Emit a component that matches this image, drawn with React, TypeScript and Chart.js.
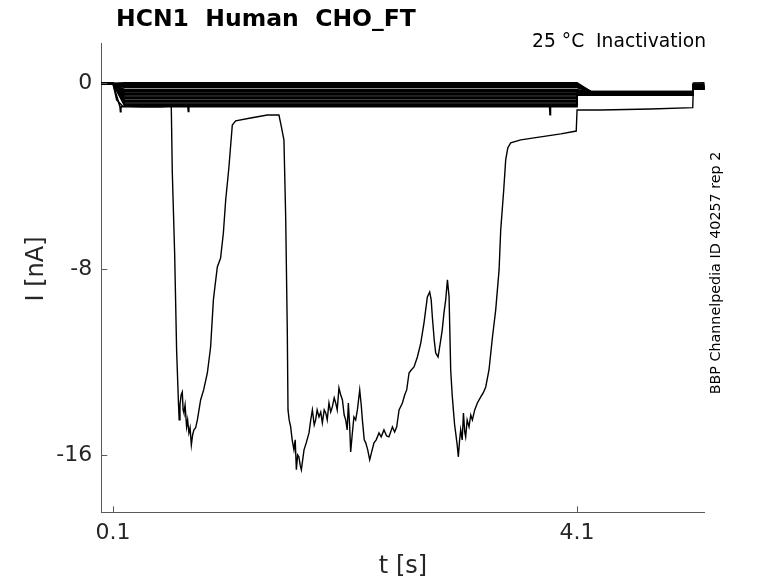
import { useEffect, useRef } from "react"
import { Chart, registerables, type ChartConfiguration, type Plugin } from "chart.js"

Chart.register(...registerables)

// axis ranges and ticks
const xRange = [0, 5.2]
const yRange = [-18.47, 1.73]
const xTicks = [0.1, 4.1]
const yTicks = [-16, -8, 0]

// family of inactivation sweeps (nA): holding level, tail after 4.1 s, level after 5.1 s
const sweepLevels = [0.03, 0, -0.03, -0.06, -0.09, -0.12, -0.15, -0.17, -0.26, -0.31, -0.36, -0.42, -0.48, -0.54, -0.6, -0.66, -0.72, -0.78, -0.84, -0.9, -0.95, -1.0]
const sweepTails = [-0.35, -0.35, -0.36, -0.36, -0.37, -0.37, -0.38, -0.38, -0.39, -0.4, -0.4, -0.41, -0.42, -0.43, -0.44, -0.44, -0.45, -0.46, -0.47, -0.48, -0.49, -0.5]
const sweepEnds = [-0.02, -0.05, -0.08, -0.1, -0.12, -0.14, -0.15, -0.16, -0.17, -0.18, -0.19, -0.2, -0.2, -0.21, -0.21, -0.22, -0.22, -0.23, -0.23, -0.24, -0.24, -0.25]
// protocol times (s)
const sweepStart = [0, 0.1, 0.2]
const tailTimes = [4.1, 4.22, 5.1, 5.2]

// short glitches on the deepest sweep
const glitchT = [0.165, 0.75, 3.867]
const glitchI = [-1.22, -1.2, -1.35]

// the large noisy sweep
const bigT = [
  0, 0.1, 0.132, 0.184, 0.339, 0.511, 0.603, 0.612, 0.632, 0.649, 0.664, 0.671, 0.678, 0.688, 0.698, 0.705,
  0.712, 0.722, 0.735, 0.744, 0.755, 0.765, 0.776, 0.787, 0.798, 0.813, 0.828, 0.856, 0.882, 0.914, 0.942,
  0.966, 0.979, 1.0, 1.028, 1.052, 1.072, 1.1, 1.129, 1.158, 1.287, 1.431, 1.531, 1.552, 1.574, 1.589, 1.603,
  1.609, 1.619, 1.632, 1.645, 1.66, 1.671, 1.681, 1.692, 1.703, 1.714, 1.724, 1.747, 1.766, 1.79, 1.805,
  1.819, 1.835, 1.847, 1.86, 1.876, 1.891, 1.905, 1.921, 1.934, 1.947, 1.962, 1.977, 1.991, 2.007, 2.02,
  2.033, 2.048, 2.063, 2.078, 2.093, 2.106, 2.119, 2.129, 2.14, 2.149, 2.162, 2.177, 2.192, 2.207, 2.227,
  2.24, 2.25, 2.266, 2.279, 2.296, 2.313, 2.33, 2.35, 2.369, 2.393, 2.412, 2.436, 2.459, 2.479, 2.509,
  2.528, 2.546, 2.566, 2.595, 2.615, 2.632, 2.652, 2.671, 2.695, 2.724, 2.753, 2.781, 2.81, 2.83, 2.843,
  2.853, 2.869, 2.882, 2.902, 2.912, 2.925, 2.938, 2.953, 2.968, 2.983, 2.997, 3.011, 3.024, 3.034, 3.045,
  3.054, 3.067, 3.077, 3.088, 3.097, 3.11, 3.121, 3.132, 3.14, 3.153, 3.169, 3.184, 3.198, 3.218, 3.241,
  3.27, 3.291, 3.313, 3.341, 3.371, 3.399, 3.428, 3.442, 3.468, 3.485, 3.503, 3.528, 3.615, 3.787, 3.96,
  4.093, 4.1, 4.304, 4.735, 5.097, 5.103, 5.2,
]
const bigI = [
  0, 0, -0.71, -0.97, -1.01, -1.01, -0.97, -3.85, -7.3, -11.48, -13.63, -14.49, -13.85, -13.41, -13.29, -14.06,
  -14.19, -13.85, -14.79, -14.49, -15.05, -14.83, -15.57, -15.14, -14.92, -14.83, -14.49, -13.63, -13.2, -12.47, -11.35,
  -9.32, -8.76, -7.9, -7.52, -6.44, -5.02, -3.6, -1.79, -1.61, -1.49, -1.36, -1.36, -1.87, -2.44, -5.75, -10.74,
  -14.06, -14.49, -14.79, -15.35, -15.78, -15.35, -16.64, -16.0, -16.09, -16.44, -16.64, -15.78, -15.48, -15.05, -14.49,
  -14.06, -14.71, -14.49, -14.06, -14.36, -14.15, -14.62, -14.06, -14.19, -14.49, -13.76, -14.15, -13.93, -13.54, -13.76,
  -14.06, -13.11, -13.41, -13.63, -14.28, -14.49, -14.92, -13.76, -14.71, -15.87, -15.14, -14.36, -14.49, -14.06, -13.2,
  -13.85, -14.49, -15.35, -15.48, -15.78, -16.21, -15.87, -15.48, -15.35, -15.05, -15.22, -14.92, -15.18, -15.22, -14.79,
  -15.01, -14.79, -14.06, -13.76, -13.41, -13.2, -12.47, -12.34, -12.21, -11.78, -11.18, -10.31, -9.19, -8.98, -9.32,
  -10.06, -11.05, -11.61, -11.78, -11.48, -11.05, -10.62, -9.88, -9.32, -8.46, -9.19, -12.34, -13.42, -14.06, -14.71,
  -15.05, -15.57, -16.08, -15.35, -14.92, -15.35, -14.19, -15.01, -15.22, -14.49, -14.79, -14.28, -14.49, -14.06, -13.76,
  -13.5, -13.33, -13.07, -12.34, -10.92, -9.75, -8.03, -6.31, -4.59, -3.29, -2.78, -2.56, -2.43, -2.3, -2.17,
  -2.05, -1.14, -1.14, -1.1, -1.04, 0.02, 0.03,
]

const title = "HCN1  Human  CHO_FT"
const subtitle = "25 °C  Inactivation"
const sideNote = "BBP Channelpedia ID 40257 rep 2"
const xLabel = "t [s]"
const yLabel = "I [nA]"

const axisColor = "#5a5a5a"
const textColor = "#262626"
const font = "'DejaVu Sans', sans-serif"

type Pt = { x: number; y: number }

function sweepPoints(i: number): Pt[] {
  const level = sweepLevels[i]
  const tail = sweepTails[i]
  const end = sweepEnds[i]
  const pts: Pt[] = [
    { x: sweepStart[0], y: 0 },
    { x: sweepStart[1], y: 0 },
    { x: sweepStart[2], y: level },
  ]
  if (i === sweepLevels.length - 1) {
    glitchT.forEach((t, k) => {
      pts.push({ x: t - 0.004, y: level }, { x: t, y: glitchI[k] }, { x: t + 0.004, y: level })
    })
    pts.sort((a, b) => a.x - b.x)
  }
  pts.push({ x: tailTimes[0], y: level })
  pts.push({ x: tailTimes[0], y: level > tail ? level : tail })
  pts.push({ x: tailTimes[1], y: tail })
  pts.push({ x: tailTimes[2], y: tail })
  pts.push({ x: tailTimes[2], y: end })
  pts.push({ x: tailTimes[3], y: end })
  return pts
}

const decorPlugin: Plugin<"line"> = {
  id: "decor",
  afterDraw(chart) {
    const { ctx, chartArea, scales } = chart
    ctx.save()
    // inward tick marks
    ctx.strokeStyle = axisColor
    ctx.lineWidth = 1
    ctx.beginPath()
    xTicks.forEach((v) => {
      const px = Math.round(scales.x.getPixelForValue(v)) + 0.5
      ctx.moveTo(px, chartArea.bottom)
      ctx.lineTo(px, chartArea.bottom - 6)
    })
    yTicks.forEach((v) => {
      const py = Math.round(scales.y.getPixelForValue(v)) + 0.5
      ctx.moveTo(chartArea.left, py)
      ctx.lineTo(chartArea.left + 6, py)
    })
    ctx.stroke()

    // title and notes
    ctx.fillStyle = "#000"
    ctx.font = `bold 23.5px ${font}`
    ctx.textAlign = "left"
    ctx.textBaseline = "alphabetic"
    ctx.fillText(title, 116, 26)

    ctx.font = `18.7px ${font}`
    ctx.textAlign = "right"
    ctx.fillText(subtitle, 706, 47)

    ctx.save()
    ctx.translate(716, 273)
    ctx.rotate(-Math.PI / 2)
    ctx.font = `14.3px ${font}`
    ctx.textAlign = "center"
    ctx.textBaseline = "middle"
    ctx.fillText(sideNote, 0, 0)
    ctx.restore()

    // axis labels
    ctx.fillStyle = textColor
    ctx.font = `24px ${font}`
    ctx.textAlign = "center"
    ctx.textBaseline = "middle"
    ctx.fillText(xLabel, 403, 567)
    ctx.save()
    ctx.translate(37, 269)
    ctx.rotate(-Math.PI / 2)
    ctx.fillText(yLabel, 0, 0)
    ctx.restore()

    ctx.restore()
  },
}

export default function App() {
  const chartRef = useRef<HTMLCanvasElement>(null)
  const chartInstance = useRef<Chart | null>(null)

  useEffect(() => {
    if (!chartRef.current) return
    const ctx = chartRef.current.getContext("2d")
    if (!ctx) return

    if (chartInstance.current) {
      chartInstance.current.destroy()
    }

    const sweepSets = sweepLevels.map((_, i) => ({
      label: `sweep ${i + 1}`,
      data: sweepPoints(i),
      borderColor: "#000",
      borderWidth: 1.6,
      pointRadius: 0,
      tension: 0,
    }))

    const bigSet = {
      label: "sweep big",
      data: bigT.map((t, i) => ({ x: t, y: bigI[i] })),
      borderColor: "#000",
      borderWidth: 1.4,
      pointRadius: 0,
      tension: 0,
    }

    const config: ChartConfiguration<"line", Pt[]> = {
      type: "line",
      data: { datasets: [...sweepSets, bigSet] },
      options: {
        animation: false,
        responsive: true,
        maintainAspectRatio: false,
        layout: { padding: { top: 43.3, right: 73.3, left: 0, bottom: 0 } },
        plugins: {
          legend: { display: false },
          title: { display: false },
          tooltip: { enabled: false },
        },
        scales: {
          x: {
            type: "linear",
            min: xRange[0],
            max: xRange[1],
            afterBuildTicks: (scale) => {
              scale.ticks = xTicks.map((v) => ({ value: v }))
            },
            afterFit: (scale) => {
              scale.height = 70.7
            },
            grid: { display: false, drawTicks: false },
            border: { display: true, color: axisColor, width: 1 },
            ticks: {
              color: textColor,
              padding: 8,
              maxRotation: 0,
              font: { family: font, size: 22 },
              callback: (v) => String(v),
            },
          },
          y: {
            type: "linear",
            min: yRange[0],
            max: yRange[1],
            afterBuildTicks: (scale) => {
              scale.ticks = yTicks.map((v) => ({ value: v }))
            },
            afterFit: (scale) => {
              scale.width = 101.3
            },
            grid: { display: false, drawTicks: false },
            border: { display: true, color: axisColor, width: 1 },
            ticks: {
              color: textColor,
              padding: 9,
              font: { family: font, size: 22 },
              callback: (v) => String(v),
            },
          },
        },
      },
      plugins: [decorPlugin],
    }

    chartInstance.current = new Chart(ctx, config)

    return () => {
      if (chartInstance.current) {
        chartInstance.current.destroy()
        chartInstance.current = null
      }
    }
  }, [])

  return (
    <div style={{ position: "fixed", left: 0, top: 0, width: 778, height: 583, background: "#fff" }}>
      <canvas ref={chartRef} />
    </div>
  )
}
